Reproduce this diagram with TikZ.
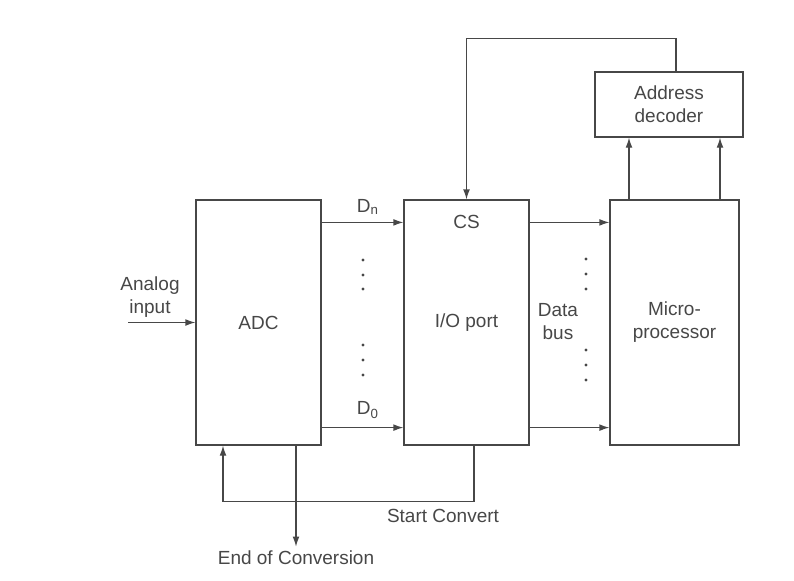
\documentclass[tikz,border=0pt]{standalone}
\usepackage{fontspec}
\setmainfont{Liberation Sans}
\usetikzlibrary{arrows.meta, positioning}
\colorlet{ink}{black!72}

\begin{document}
\begin{tikzpicture}[x=0.5pt, y=-0.5pt, node distance=104pt, on grid,
        >={Latex[length=5pt,width=3.4pt]},
        blk/.style={draw=ink, line width=0.6pt, text=ink, align=center,
            minimum width=62.5pt, minimum height=122.5pt,
            font=\fontsize{9.5}{11.5}\selectfont},
        lbl/.style={text=ink, align=center, inner sep=0pt,
            font=\fontsize{9.5}{11.5}\selectfont},
        wire/.style={draw=ink, line width=0.6pt}]
        \useasboundingbox (0,0) rectangle (794,580);

        \node[blk] (adc) at (258.5,322.5) {ADC};
        \node[blk] (io) [right=of adc] {I/O port};
        \node[blk, minimum width=64.5pt] (micro) [right=of io] {Micro-\\processor};
        \node[blk, minimum width=74pt, minimum height=32.5pt] (dec) at (669,104.5) {Address\\decoder};

        \node[lbl, below=7.5pt of io.north] (cs) {CS};
        \node[lbl] (ain) at (150,297) {Analog\\input};
        \node[lbl] (dn) at (368,207) {D\textsubscript{n}};
        \node[lbl] (d0) at (368,410) {D\textsubscript{0}};
        \node[lbl] (bus) at (558,322) {Data\\bus};
        \node[lbl] (sc) at (443,516) {Start Convert};
        \node[lbl] (eoc) at (296,558) {End of Conversion};

        \coordinate (src) at (128,322.5);
        \coordinate (m1) at ([xshift=-22.75pt]micro.north);
        \coordinate (m2) at ([xshift=22.75pt]micro.north);

        % ADC to I/O port
        \draw[wire, ->] (src) -- (adc.west);
        \draw[wire, ->] ([yshift=-11.5pt]adc.north east) -- ([yshift=-11.5pt]io.north west);
        \draw[wire, ->] ([yshift=9pt]adc.south east) -- ([yshift=9pt]io.south west);
        \foreach \y in {260,275,289,345,360,375}
            \fill[ink] (363,\y) circle (0.8pt);

        % data bus
        \draw[wire, ->] ([yshift=-11.5pt]io.north east) -- ([yshift=-11.5pt]micro.north west);
        \draw[wire, ->] ([yshift=9pt]io.south east) -- ([yshift=9pt]micro.south west);
        \foreach \y in {259,274,289,350,365,380}
            \fill[ink] (586,\y) circle (0.8pt);

        % address lines and chip select
        \draw[wire, ->] (m1) -- (m1 |- dec.south);
        \draw[wire, ->] (m2) -- (m2 |- dec.south);
        \draw[wire, ->] ([xshift=3.5pt]dec.north) -- ++(0,-33) -| (io.north);

        % start convert / end of conversion
        \draw[wire, ->] ([xshift=3.75pt]io.south) -- ++(0,56) -| ([xshift=-17.75pt]adc.south);
        \draw[wire, ->] ([xshift=18.75pt]adc.south) -- ([yshift=2pt]eoc.north);
\end{tikzpicture}
\end{document}
